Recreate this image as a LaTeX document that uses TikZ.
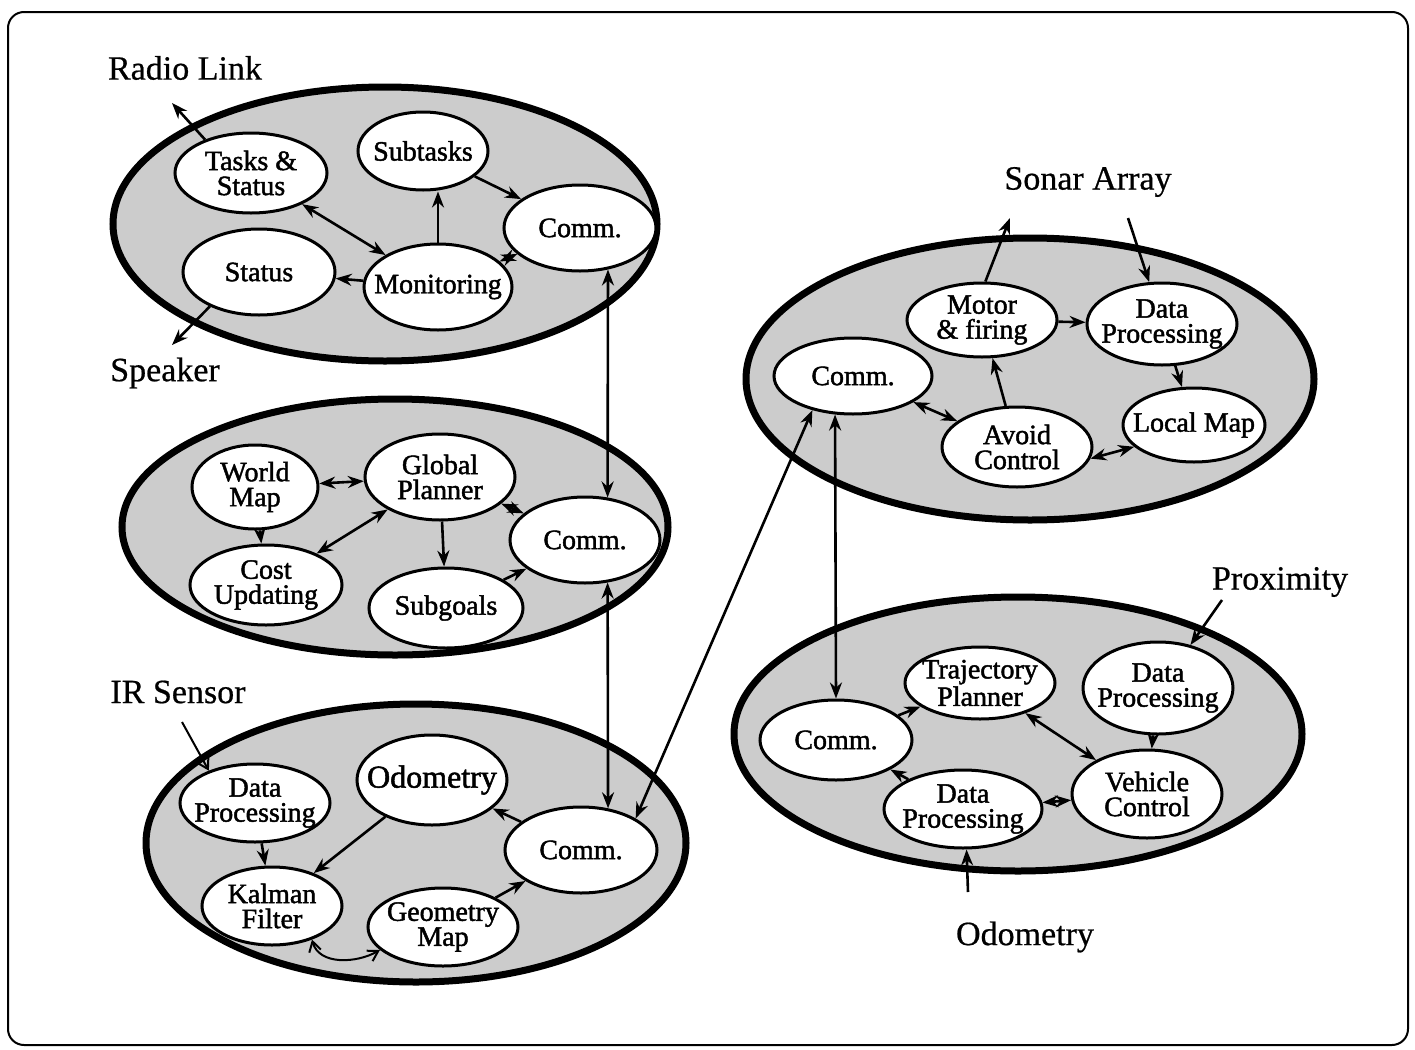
\documentclass[tikz,border=0pt]{standalone}
\usepackage{fontspec}
\setmainfont{Liberation Serif}
\newfontfamily\nodefont{Liberation Serif}[FakeBold=1.6]
\newfontfamily\extfont{Liberation Serif}[FakeBold=0.6]
\usetikzlibrary{shapes.geometric,arrows.meta}
\begin{document}
\begin{tikzpicture}[x=0.5pt,y=-0.5pt,
  cluster/.style={draw, line width=3.5pt, fill=black!20},
  bub/.style 2 args={ellipse, draw, line width=1.5pt, fill=white,
    minimum width=#1pt, minimum height=#2pt, inner sep=0pt},
  ntext/.style={font=\nodefont\fontsize{14}{12.5}\selectfont, align=center, inner sep=0pt},
  ext/.style={font=\extfont\fontsize{17}{20}\selectfont, inner sep=0pt},
  tip/.tip={Stealth[length=8pt,width=6pt]},
  conn/.style={line width=1.3pt, -tip},
  biconn/.style={line width=1.3pt, tip-tip},
  barb/.style={line width=1pt, -{Straight Barb[length=5pt,width=6pt]}},
  bibarb/.style={line width=1pt, {Straight Barb[length=5pt,width=6pt]}-{Straight Barb[length=5pt,width=6pt]}}
]
\useasboundingbox (0,0) rectangle (1415,1050);
\draw[line width=1pt, rounded corners=8pt] (8,12) rectangle (1408,1045);

% process groups
\draw[cluster] (385,224) ellipse [x radius=136pt, y radius=68.5pt];
\draw[cluster] (395,527) ellipse [x radius=136.5pt, y radius=64pt];
\draw[cluster] (416,843) ellipse [x radius=135pt, y radius=69.5pt];
\draw[cluster] (1030,379) ellipse [x radius=142pt, y radius=70.5pt];
\draw[cluster] (1018,734) ellipse [x radius=142pt, y radius=68.5pt];

% supervisor group
\node[bub={76}{40}, label={[ntext]center:{Tasks \&\\Status}}] (tasks) at (251,173) {};
\node[bub={65}{39}, label={[ntext]center:{Subtasks}}] (subtasks) at (423,151) {};
\node[bub={76}{43}, label={[ntext]center:{Comm.}}] (comma) at (580,228) {};
\node[bub={76}{43}, label={[ntext]center:{Status}}] (status) at (259,272) {};
\node[bub={74}{43}, label={[ntext]center:{Monitoring}}] (monit) at (438,287) {};

% planner group
\node[bub={63}{42}, label={[ntext]center:{World\\Map}}] (world) at (255,487) {};
\node[bub={75}{43}, label={[ntext]center:{Global\\Planner}}] (global) at (440,477) {};
\node[bub={75}{43}, label={[ntext]center:{Comm.}}] (commb) at (585,540) {};
\node[bub={76}{40}, label={[ntext]center:{Cost\\Updating}}] (cost) at (266,585) {};
\node[bub={77}{40}, label={[ntext]center:{Subgoals}}] (subgoals) at (446,608) {};

% localisation group
\node[bub={75}{39}, label={[ntext]center:{Data\\Processing}}] (irdata) at (255,803) {};
\node[bub={75}{45}, label={[ntext]center:{\fontsize{16}{16}\selectfont Odometry}}] (odo) at (432,780) {};
\node[bub={76}{43}, label={[ntext]center:{Comm.}}] (commc) at (581,850) {};
\node[bub={70}{39}, label={[ntext]center:{Kalman\\Filter}}] (kalman) at (272,906) {};
\node[bub={75}{39}, label={[ntext]center:{Geometry\\Map}}] (geom) at (443,927) {};

% sonar group
\node[bub={75}{37}, label={[ntext]center:{Motor\\\& firing}}] (motor) at (982,320) {};
\node[bub={75}{41}, label={[ntext]center:{Data\\Processing}}] (sodata) at (1162,324) {};
\node[bub={79}{38}, label={[ntext]center:{Comm.}}] (commd) at (853,376) {};
\node[bub={75}{40}, label={[ntext]center:{Avoid\\Control}}] (avoid) at (1017,447) {};
\node[bub={71}{37}, label={[ntext]center:{Local Map}}] (localmap) at (1194,425) {};

% vehicle group
\node[bub={75}{36}, label={[ntext]center:{Trajectory\\Planner}}] (traj) at (980,683) {};
\node[bub={75}{46}, label={[ntext]center:{Data\\Processing}}] (prdata) at (1158,688) {};
\node[bub={76}{40}, label={[ntext]center:{Comm.}}] (comme) at (836,740) {};
\node[bub={75}{44}, label={[ntext]center:{Vehicle\\Control}}] (vehicle) at (1147,794) {};
\node[bub={79}{39}, label={[ntext]center:{Data\\Processing}}] (oddata) at (963,809) {};

% external devices
\node[ext] (radio) at (185,68) {Radio Link};
\node[ext] (speaker) at (165,373) {Speaker};
\node[ext] (irsensor) at (178,692) {IR Sensor};
\node[ext] (sonar) at (1088,182) {Sonar Array};
\node[ext] (proximity) at (1280,582) {Proximity};
\node[ext] (odometry) at (1025,937) {Odometry};

\coordinate (radioend) at (172,103);
\coordinate (speakerend) at (172,345);
\coordinate (irstart) at (182,722);
\coordinate (sonarout) at (1010,218);
\coordinate (sonarin) at (1128,218);
\coordinate (proxstart) at (1222,600);
\coordinate (odostart) at (968,892);

% supervisor connections
\draw[conn] (tasks.144) -- (radioend);
\draw[conn] (status.-145) -- (speakerend);
\draw[biconn] (tasks) -- (monit);
\draw[conn] (monit.north) -- (subtasks.south -| monit.north);
\draw[conn] (subtasks) -- (comma);
\draw[conn] (monit) -- (status);
\draw[biconn] (monit) -- (comma);

% planner connections
\draw[biconn] (world) -- (global);
\draw[conn] (world) -- (cost);
\draw[biconn] (global) -- (cost);
\draw[conn] (global) -- (subgoals);
\draw[biconn] (global) -- (commb);
\draw[conn] (subgoals) -- (commb);

% localisation connections
\draw[barb] (irstart) -- (irdata.145);
\draw[conn] (irdata) -- (kalman);
\draw[conn] (odo) -- (kalman);
\draw[conn] (commc) -- (odo);
\draw[conn] (geom) -- (commc);
\draw[bibarb] (kalman.-40) to[out=-75, in=-150] (geom.-160);

% sonar connections
\draw[conn] (motor.85) -- (sonarout);
\draw[conn] (sonarin) -- (sodata.107);
\draw[conn] (motor) -- (sodata);
\draw[conn] (avoid) -- (motor);
\draw[conn] (sodata) -- (localmap);
\draw[biconn] (commd) -- (avoid);
\draw[biconn] (avoid.-9) -- (localmap.-160);

% vehicle connections
\draw[conn] (proxstart) -- (prdata.53);
\draw[conn] (odostart) -- (oddata.-85);
\draw[conn] (comme) -- (traj);
\draw[biconn] (traj) -- (vehicle);
\draw[conn] (prdata) -- (vehicle);
\draw[biconn] (vehicle) -- (oddata);
\draw[conn] (oddata) -- (comme);

% links between groups
\draw[biconn] (comma.-56) -- (commb.62);
\draw[biconn] (commb.-62) -- (commc.57);
\draw[biconn] (commc.30) -- (commd.-140);
\draw[biconn] (commd.-115) -- (comme.north);
\end{tikzpicture}
\end{document}
